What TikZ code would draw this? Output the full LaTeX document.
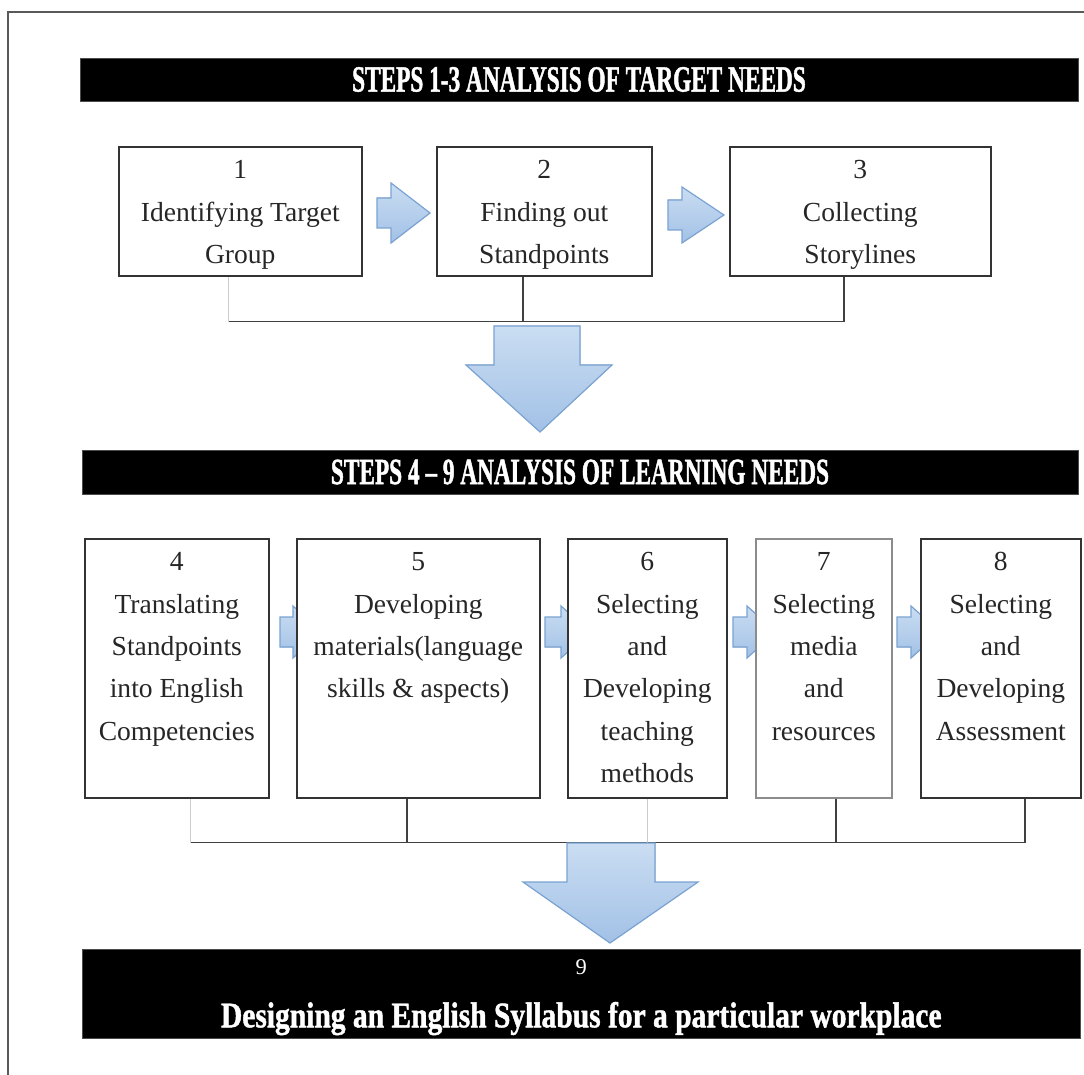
\documentclass[tikz,border=0pt]{standalone}
\usepackage{fontspec}
\setmainfont{Liberation Serif}
\newfontfamily\headfont[FakeStretch=0.63, BoldFeatures={FakeBold=1.2}]{Liberation Serif}
\newfontfamily\footfont[FakeStretch=0.82, BoldFeatures={FakeBold=1.2}]{Liberation Serif}

\definecolor{arrowtop}{HTML}{CADDF2}
\definecolor{arrowbottom}{HTML}{A2C1E6}
\definecolor{arrowline}{HTML}{7AA3D3}

\tikzset{
  headbar/.style={fill=black, draw=black!70, inner sep=0pt, text=white,
    font=\headfont\bfseries\fontsize{26.3}{30}\selectfont},
  stepbox/.style={draw=black!80, line width=0.4mm, fill=white, anchor=north west,
    inner sep=0pt, align=flush center, text height=8mm, text=black!85,
    font=\fontsize{19.6}{30.1}\selectfont},
  flowarrow/.style={draw=arrowline, line width=0.3mm, top color=arrowtop, bottom color=arrowbottom},
  link/.style={draw=black!75, line width=0.4mm},
  linkfaint/.style={draw=black!20, line width=0.3mm},
}

% tail x, head x, tip x, middle y, half head, half body
\newcommand{\blockright}[6]{%
  \filldraw[flowarrow] (#1,#4-#6) -- (#2,#4-#6) -- (#2,#4-#5) -- (#3,#4)
    -- (#2,#4+#5) -- (#2,#4+#6) -- (#1,#4+#6) -- cycle;}

\begin{document}
\begin{tikzpicture}[x=0.25mm, y=-0.25mm]
\useasboundingbox[fill=white] (0,0) rectangle (1084,1075);
\draw[black!65, line width=0.5mm] (8,1075) -- (8,12) -- (1084,12);

\node[headbar, minimum width=249.5mm, minimum height=10.75mm] (head1) at (579,79.5)
  {STEPS 1-3 ANALYSIS OF TARGET NEEDS};
\node[headbar, minimum width=249mm, minimum height=11mm] (head2) at (580,472)
  {STEPS 4 – 9 ANALYSIS OF LEARNING NEEDS};
\node[headbar, anchor=north west, text width=249.5mm, text height=6.25mm, text depth=16mm,
  align=flush center, font=\footfont\bfseries\fontsize{25.6}{37.7}\selectfont] (goal) at (82,949)
  {{\normalfont\fontsize{16}{37.7}\selectfont 9}\\Designing an English Syllabus for a particular workplace};

\blockright{377}{391}{430}{213}{30}{15}
\blockright{668}{682}{724}{215}{28}{15}
\blockright{280}{293}{322}{632}{26}{15}
\blockright{545}{561}{590}{632}{26}{15}
\blockright{733}{747}{776}{632}{26}{15}
\blockright{897}{911}{940}{632}{26}{15}

\node[stepbox, text width=60.75mm, text depth=24.25mm] (s1) at (118,146) {1\\Identifying Target\\Group};
\node[stepbox, text width=53.75mm, text depth=24.25mm] (s2) at (436,146) {2\\Finding out\\Standpoints};
\node[stepbox, text width=65.25mm, text depth=24.25mm] (s3) at (729,146) {3\\Collecting\\Storylines};

\node[stepbox, text width=46mm, text depth=56.75mm] (s4) at (84,538) {4\\Translating\\Standpoints\\into English\\Competencies};
\node[stepbox, text width=60.75mm, text depth=56.75mm] (s5) at (296,538) {5\\Developing\\materials(language\\skills \& aspects)};
\node[stepbox, text width=39.75mm, text depth=56.75mm] (s6) at (567,538) {6\\Selecting\\and\\Developing\\teaching\\methods};
\node[stepbox, draw=black!45, text width=34mm, text depth=56.75mm] (s7) at (755,538) {7\\Selecting\\media\\and\\resources};
\node[stepbox, text width=40mm, text depth=56.75mm] (s8) at (920,538) {8\\Selecting\\and\\Developing\\Assessment};

\draw[linkfaint] ([xshift=-2.9mm]s1.south) -- ++(0,-11.25mm) coordinate (j1);
\draw[link] ([xshift=-4.1mm]s3.south) -- ++(0,-11.25mm) -- (j1);
\draw[link] ([xshift=-5.4mm]s2.south) -- ++(0,-11.25mm);

\draw[linkfaint] ([xshift=3.5mm]s4.south) -- ++(0,-11mm) coordinate (j2);
\draw[link] ([xshift=6mm]s8.south) -- ++(0,-11mm) -- (j2);
\draw[link] ([xshift=-2.9mm]s5.south) -- ++(0,-11mm);
\draw[linkfaint] (s6.south) -- ++(0,-11mm);
\draw[link] ([xshift=3mm]s7.south) -- ++(0,-11mm);

\filldraw[flowarrow] (494,326) -- (580,326) -- (580,365) -- (612,365) -- (540,432)
  -- (466,365) -- (494,365) -- cycle;
\filldraw[flowarrow] (567,843) -- (655,843) -- (655,882) -- (698,882) -- (610,943)
  -- (523,882) -- (567,882) -- cycle;
\end{tikzpicture}
\end{document}
